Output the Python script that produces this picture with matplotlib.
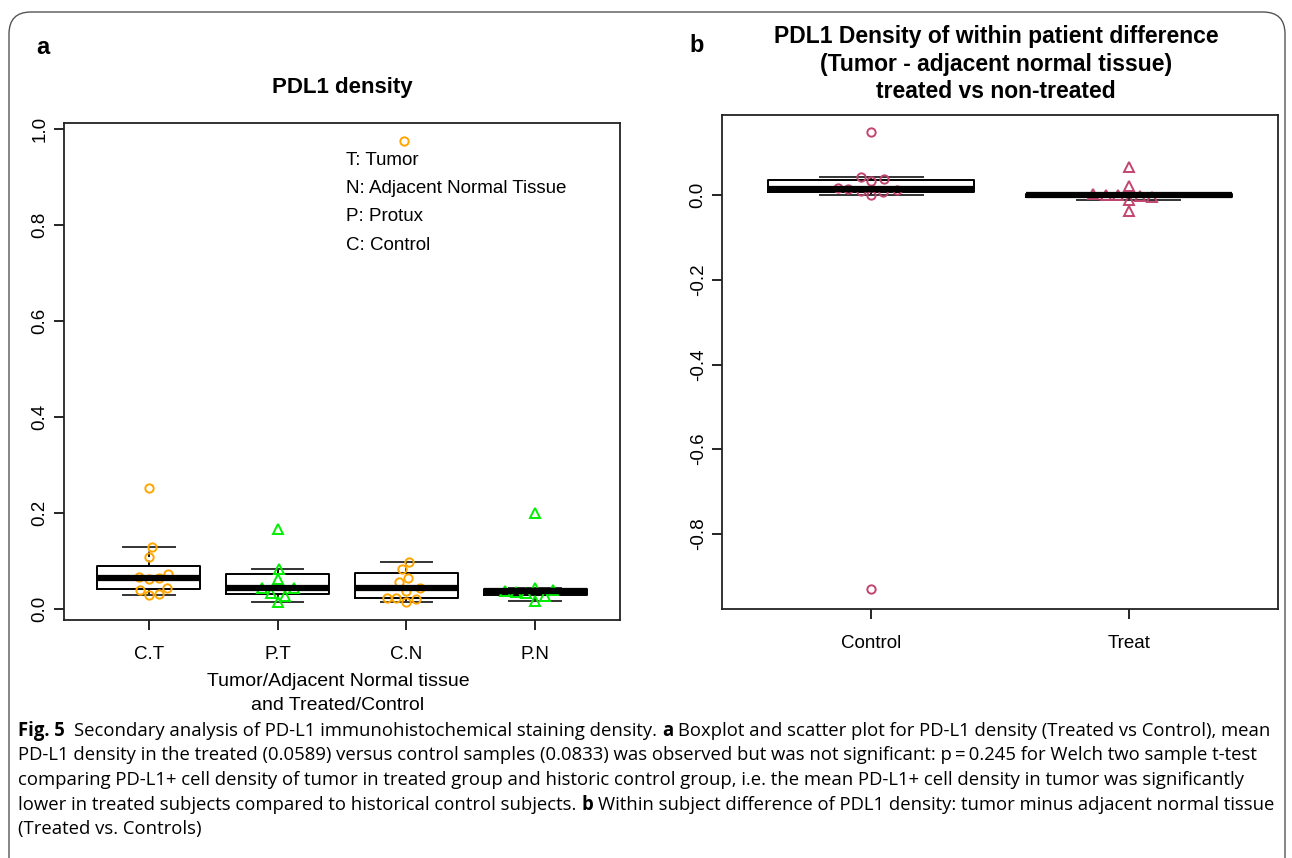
import numpy as np
import matplotlib.pyplot as plt
from matplotlib.patches import FancyBboxPatch

# ---- data ----
groups_a = ['C.T', 'P.T', 'C.N', 'P.N']
ct_vals = [0.252, 0.130, 0.108, 0.072, 0.067, 0.065, 0.062, 0.044, 0.039, 0.032, 0.029]
pt_vals = [0.166, 0.084, 0.062, 0.044, 0.043, 0.034, 0.027, 0.015]
cn_vals = [0.976, 0.098, 0.083, 0.065, 0.057, 0.044, 0.038, 0.023, 0.022, 0.020, 0.015]
pn_vals = [0.200, 0.044, 0.040, 0.038, 0.035, 0.033, 0.027, 0.017]
# horizontal jitter of each point (category units)
ct_jit = [0.0, 0.02, 0.0, 0.15, -0.08, 0.075, 0.0, 0.14, -0.07, 0.075, 0.0]
pt_jit = [0.0, 0.01, 0.0, 0.13, -0.125, -0.05, 0.06, 0.0]
cn_jit = [-0.02, 0.02, -0.035, 0.015, -0.06, 0.105, 0.0, -0.08, -0.15, 0.075, 0.0]
pn_jit = [0.0, 0.0, 0.14, -0.23, -0.15, -0.07, 0.08, 0.0]

groups_b = ['Control', 'Treat']
control_diff = [0.150, 0.043, 0.039, 0.035, 0.017, 0.015, 0.013, 0.011, 0.007, 0.001, -0.930]
treat_diff = [0.067, 0.023, 0.004, 0.002, 0.000, -0.001, -0.003, -0.012, -0.037]
control_jit = [0.0, -0.04, 0.05, 0.0, -0.13, -0.09, 0.10, -0.04, 0.045, 0.0, 0.0]
treat_jit = [0.0, 0.0, -0.14, -0.09, -0.04, 0.045, 0.09, 0.0, 0.0]

legend_lines = ['T: Tumor', 'N: Adjacent Normal Tissue', 'P: Protux', 'C: Control']

caption = [
    [('Fig. 5', 'bold'), ('  Secondary analysis of PD-L1 immunohistochemical staining density. ', 'normal'),
     ('a', 'bold'), (' Boxplot and scatter plot for PD-L1 density (Treated vs Control), mean', 'normal')],
    [('PD-L1 density in the treated (0.0589) versus control samples (0.0833) was observed but was not '
      'significant: p\u2009=\u20090.245 for Welch two sample t-test', 'normal')],
    [('comparing PD-L1+ cell density of tumor in treated group and historic control group, i.e. the mean '
      'PD-L1+ cell density in tumor was significantly', 'normal')],
    [('lower in treated subjects compared to historical control subjects. ', 'normal'), ('b', 'bold'),
     (' Within subject difference of PDL1 density: tumor minus adjacent normal tissue', 'normal')],
    [('(Treated vs. Controls)', 'normal')],
]

ORANGE = '#FFA500'
GREEN = '#00EE00'
MAROON = '#C2456F'

plt.rcParams['font.family'] = ['Liberation Sans', 'DejaVu Sans']

W, H = 1292, 858
fig = plt.figure(figsize=(W / 100, H / 100), dpi=100)


def fivenum(v):
    v = np.sort(np.asarray(v, dtype=float))
    n = len(v)
    n4 = np.floor((n + 3) / 2) / 2
    d = [1, n4, (n + 1) / 2, n + 1 - n4, n]
    return [0.5 * (v[int(np.floor(i)) - 1] + v[int(np.ceil(i)) - 1]) for i in d]


def r_stats(v):
    s = fivenum(v)
    iqr = s[3] - s[1]
    v = np.asarray(v)
    inside = v[(v >= s[1] - 1.5 * iqr) & (v <= s[3] + 1.5 * iqr)]
    return dict(med=s[2], q1=s[1], q3=s[3], whislo=inside.min(), whishi=inside.max(), fliers=[])


def fig_axes(l, t, r, b):
    return fig.add_axes([l / W, 1 - b / H, (r - l) / W, (b - t) / H])


def r_boxplot(ax, data):
    ax.bxp([r_stats(d) for d in data], positions=range(1, len(data) + 1), widths=0.8,
           capwidths=0.4, showfliers=False, patch_artist=False,
           boxprops=dict(color='black', lw=1.4),
           medianprops=dict(color='black', lw=4.5, solid_capstyle='butt'),
           whiskerprops=dict(color='black', lw=1.3, linestyle=(0, (3, 2))),
           capprops=dict(color='#333333', lw=1.4))


def style_axis(ax):
    for s in ax.spines.values():
        s.set_linewidth(1.3)
        s.set_color('#222222')
    ax.tick_params(length=7, width=1.2, labelsize=13.5, pad=4)
    for lab in ax.get_yticklabels():
        lab.set_rotation(90)
        lab.set_va('center')


# ---- panel a ----
axa = fig_axes(64, 123, 620, 620)
vals_a = [ct_vals, pt_vals, cn_vals, pn_vals]
jits_a = [ct_jit, pt_jit, cn_jit, pn_jit]
cols_a = [ORANGE, GREEN, ORANGE, GREEN]
marks_a = ['o', '^', 'o', '^']
r_boxplot(axa, vals_a)
for i, (v, j, c, m) in enumerate(zip(vals_a, jits_a, cols_a, marks_a)):
    axa.plot(np.array(j) + i + 1, v, linestyle='none', marker=m, mfc='none', mec=c,
             ms=7 if m == '^' else 6, mew=1.4)
axa.set_xlim(0.34, 4.66)
axa.set_ylim(-0.023, 1.013)
axa.set_yticks([0.0, 0.2, 0.4, 0.6, 0.8, 1.0])
axa.set_yticklabels(['0.0', '0.2', '0.4', '0.6', '0.8', '1.0'])
axa.set_xticks(range(1, 5))
axa.set_xticklabels(groups_a)
style_axis(axa)
axa.tick_params(axis='x', pad=12)
for k, line in enumerate(legend_lines):
    axa.text(0.507, 0.925 - k * 0.057, line, transform=axa.transAxes, fontsize=13.5,
             ha='left', va='center')

fig.text(338 / W, 1 - 682 / H, 'Tumor/Adjacent Normal tissue', fontsize=14, ha='center', va='center')
fig.text(338 / W, 1 - 705 / H, 'and Treated/Control', fontsize=14, ha='center', va='center')

fig.text(43 / W, 1 - 47 / H, 'a', fontsize=17, fontweight='bold', ha='center', va='center')
fig.text(342 / W, 1 - 87 / H, 'PDL1 density', fontsize=16, fontweight='bold',
         ha='center', va='center')

# ---- panel b ----
axb = fig_axes(722, 115, 1278, 609)
vals_b = [control_diff, treat_diff]
jits_b = [control_jit, treat_jit]
r_boxplot(axb, vals_b)
for i, (v, j, m) in enumerate(zip(vals_b, jits_b, ['o', '^'])):
    axb.plot(np.array(j) + i + 1, v, linestyle='none', marker=m, mfc='none', mec=MAROON,
             ms=7 if m == '^' else 6, mew=1.4)
axb.set_xlim(0.42, 2.58)
axb.set_ylim(-0.978, 0.19)
axb.set_yticks([-0.8, -0.6, -0.4, -0.2, 0.0])
axb.set_yticklabels(['-0.8', '-0.6', '-0.4', '-0.2', '0.0'])
axb.set_xticks([1, 2])
axb.set_xticklabels(groups_b)
style_axis(axb)
axb.tick_params(axis='x', pad=12)

fig.text(697 / W, 1 - 45 / H, 'b', fontsize=17, fontweight='bold', ha='center', va='center')
for y, line in zip([37, 65, 92], ['PDL1 Density of within patient difference',
                                   '(Tumor - adjacent normal tissue)',
                                   'treated vs non-treated']):
    fig.text(996 / W, 1 - y / H, line, fontsize=16.5, fontweight='bold', ha='center', va='center')

# ---- frame ----
frame = FancyBboxPatch((9 / W, -0.05), (1285 - 9) / W, (1 - 12 / H) + 0.05,
                       boxstyle='round,pad=0,rounding_size=0.017', transform=fig.transFigure,
                       fill=False, edgecolor='#555555', lw=1.0, mutation_aspect=W / H)
fig.patches.append(frame)

# ---- caption ----
renderer = fig.canvas.get_renderer()
cap_font = ['Open Sans', 'DejaVu Sans']


def draw_line(pieces, y, size, draw=True):
    x = 18.0
    sp = size * 0.26 * 100 / 72
    objs = []
    for text, weight in pieces:
        lead = len(text) - len(text.lstrip(' '))
        trail = len(text) - len(text.rstrip(' '))
        x += lead * sp
        t = fig.text(x / W, 1 - y / H, text.strip(' '), fontsize=size, fontweight=weight,
                     family=cap_font, ha='left', va='center')
        w = t.get_window_extent(renderer).width
        x += w + trail * sp
        objs.append(t)
    if not draw:
        for t in objs:
            t.remove()
    return x


probe = draw_line(caption[0], 731, 12, draw=False)
cap_size = 12 * (1265 - 18) / (probe - 18)
for pieces, y in zip(caption, [731, 755.5, 780, 804.5, 829]):
    draw_line(pieces, y, cap_size)

fig.savefig('out.png', dpi=100)
